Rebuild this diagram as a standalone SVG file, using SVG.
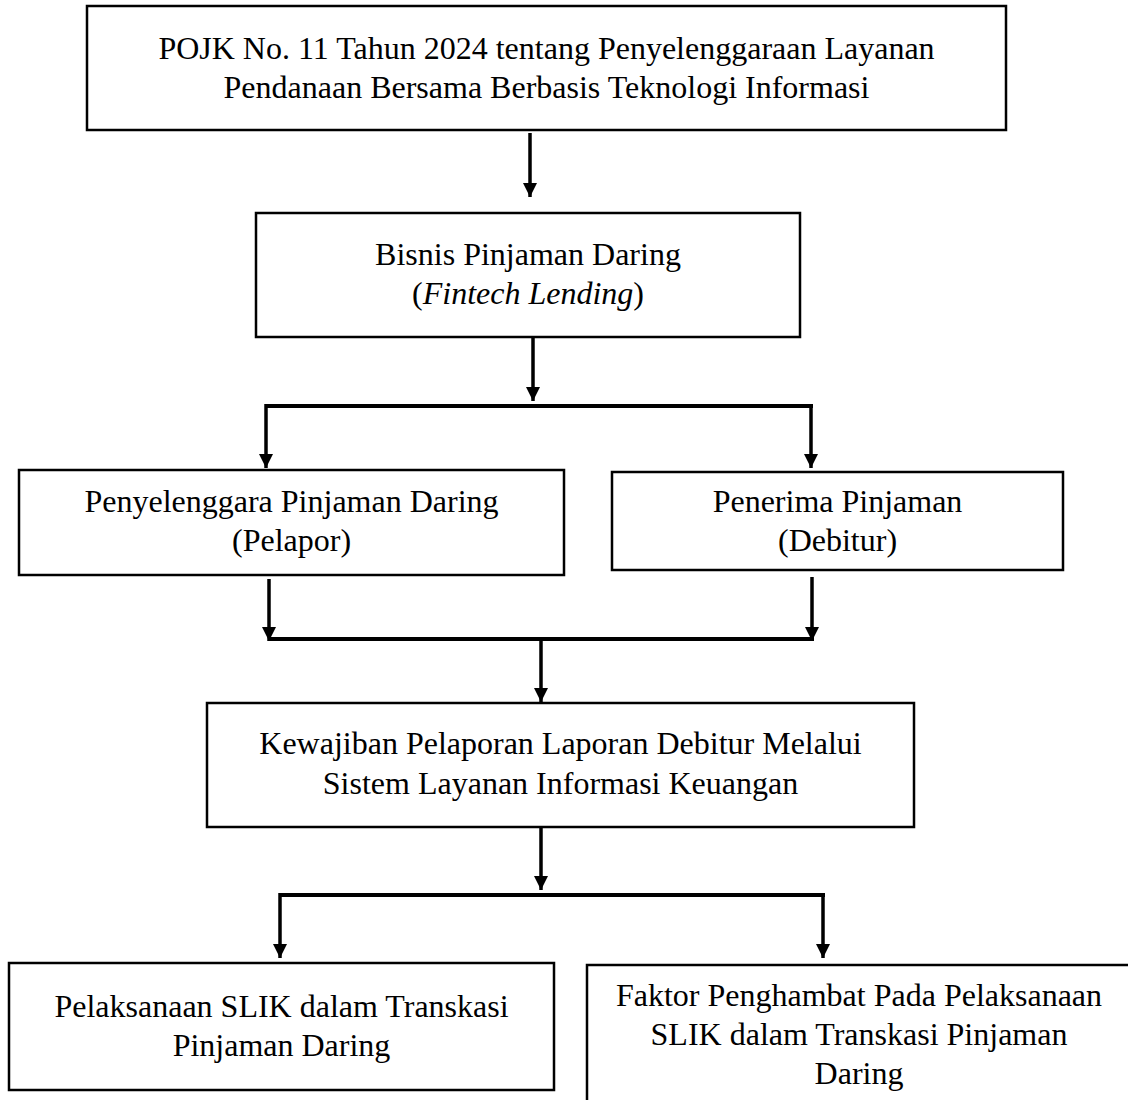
<svg xmlns="http://www.w3.org/2000/svg" width="1128" height="1100" viewBox="0 0 1128 1100">
<defs>
<style>
.box{fill:#fff;stroke:#000;stroke-width:2.5}
.t{font-family:"Liberation Serif","Times New Roman",serif;font-size:32px;fill:#000;text-anchor:middle}
.c{fill:none;stroke:#000;stroke-width:3.5}
.h{fill:none;stroke:#000;stroke-width:4}
</style>
<marker id="ah" markerWidth="4" markerHeight="4" refX="4" refY="2" orient="auto" markerUnits="strokeWidth" viewBox="0 0 4 4">
<path d="M0,0 L4,2 L0,4 Z" fill="#000"/>
</marker>
</defs>
<rect width="1128" height="1100" fill="#fff"/>
<g id="connectors">
<line class="c" x1="530" y1="133" x2="530" y2="197" marker-end="url(#ah)"/>
<line class="c" x1="533" y1="337" x2="533" y2="401" marker-end="url(#ah)"/>
<line class="h" x1="266" y1="406" x2="813" y2="406"/>
<line class="c" x1="266" y1="404" x2="266" y2="468" marker-end="url(#ah)"/>
<line class="c" x1="811" y1="404" x2="811" y2="468" marker-end="url(#ah)"/>
<line class="c" x1="269" y1="579" x2="269" y2="641" marker-end="url(#ah)"/>
<line class="c" x1="812" y1="577" x2="812" y2="641" marker-end="url(#ah)"/>
<line class="h" x1="269" y1="639" x2="814" y2="639"/>
<line class="c" x1="541" y1="639" x2="541" y2="702" marker-end="url(#ah)"/>
<line class="c" x1="541" y1="827" x2="541" y2="890" marker-end="url(#ah)"/>
<line class="h" x1="280" y1="895" x2="825" y2="895"/>
<line class="c" x1="280" y1="893" x2="280" y2="958" marker-end="url(#ah)"/>
<line class="c" x1="823" y1="893" x2="823" y2="958" marker-end="url(#ah)"/>
</g>
<g id="n1">
<rect class="box" x="87" y="6" width="919" height="124"/>
<text class="t" x="546.5" y="59">POJK No. 11 Tahun 2024 tentang Penyelenggaraan Layanan</text>
<text class="t" x="546.5" y="98">Pendanaan Bersama Berbasis Teknologi Informasi</text>
</g>
<g id="n2">
<rect class="box" x="256" y="213" width="544" height="124"/>
<text class="t" x="528" y="265">Bisnis Pinjaman Daring</text>
<text class="t" x="528" y="304">(<tspan font-style="italic">Fintech Lending</tspan>)</text>
</g>
<g id="n3">
<rect class="box" x="19" y="470" width="545" height="105"/>
<text class="t" x="291.5" y="512">Penyelenggara Pinjaman Daring</text>
<text class="t" x="291.5" y="551">(Pelapor)</text>
</g>
<g id="n4">
<rect class="box" x="612" y="472" width="451" height="98"/>
<text class="t" x="837.5" y="512">Penerima Pinjaman</text>
<text class="t" x="837.5" y="551">(Debitur)</text>
</g>
<g id="n5">
<rect class="box" x="207" y="703" width="707" height="124"/>
<text class="t" x="560.5" y="754">Kewajiban Pelaporan Laporan Debitur Melalui</text>
<text class="t" x="560.5" y="794">Sistem Layanan Informasi Keuangan</text>
</g>
<g id="n6">
<rect class="box" x="9" y="963" width="545" height="127"/>
<text class="t" x="281.5" y="1017">Pelaksanaan SLIK dalam Transkasi</text>
<text class="t" x="281.5" y="1056">Pinjaman Daring</text>
</g>
<g id="n7">
<rect class="box" x="587" y="965" width="545" height="150"/>
<text class="t" x="859" y="1006">Faktor Penghambat Pada Pelaksanaan</text>
<text class="t" x="859" y="1045">SLIK dalam Transkasi Pinjaman</text>
<text class="t" x="859" y="1084">Daring</text>
</g>
</svg>
